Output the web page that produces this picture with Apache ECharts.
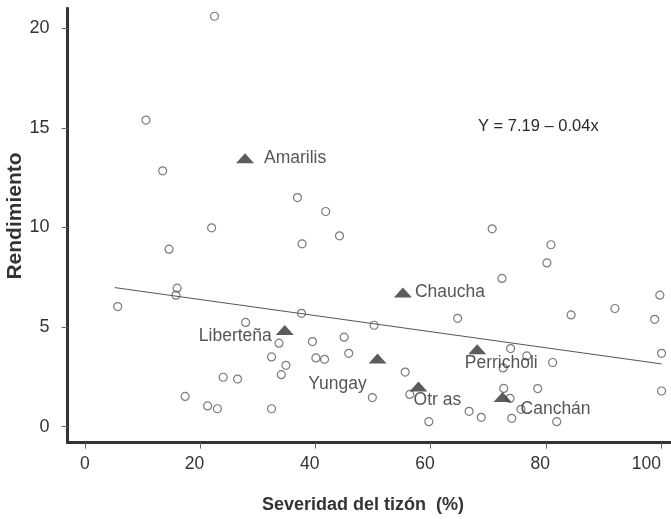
<!DOCTYPE html>
<html>
<head>
<meta charset="utf-8">
<script src="https://cdn.jsdelivr.net/npm/echarts@6/dist/echarts.min.js"></script>
<style>
html,body{margin:0;padding:0;background:#fff;}
#chart{width:671px;height:519px;}
</style>
</head>
<body>
<div id="chart"></div>
<script>
// ---- data ----
const circleX = [5.7, 10.6, 13.5, 14.6, 16.0, 15.8, 17.4, 21.3, 22.0, 22.5, 23.0, 24.0, 26.5, 27.9,
  32.4, 32.4, 33.7, 34.1, 34.9, 36.9, 37.6, 37.7, 39.5, 40.1, 41.6, 41.8, 44.2, 45.0, 45.8,
  49.9, 50.2, 55.6, 56.4, 59.7, 64.7, 66.7, 68.8, 70.7, 72.4, 72.6, 72.7, 73.8, 73.9, 74.1,
  75.7, 76.7, 78.6, 80.2, 80.9, 81.2, 81.9, 84.4, 92.0, 98.9, 99.8, 100.1, 100.1];
const circleY = [6.03, 15.39, 12.84, 8.91, 6.95, 6.6, 1.52, 1.04, 9.98, 20.6, 0.9, 2.48, 2.39, 5.23,
  3.50, 0.9, 4.19, 2.61, 3.08, 11.5, 5.69, 9.18, 4.27, 3.45, 3.38, 10.8, 9.58, 4.49, 3.68,
  1.46, 5.09, 2.74, 1.62, 0.25, 5.44, 0.77, 0.47, 9.93, 7.44, 2.95, 1.92, 1.42, 3.92, 0.42,
  0.87, 3.55, 1.91, 8.22, 9.13, 3.22, 0.25, 5.61, 5.93, 5.39, 6.6, 3.68, 1.79];

const varietyNames = ['Amarilis', 'Chaucha', 'Liberteña', 'Yungay', 'Otr as', 'Perricholi', 'Canchán'];
const varietyX = [27.8, 55.2, 34.7, 50.8, 57.9, 68.1, 72.5];
const varietyY = [13.47, 6.73, 4.85, 3.42, 2.01, 3.88, 1.49];

const regX = [5.2, 100.1];
const regY = [6.98, 3.15];

const xTicks = [0, 20, 40, 60, 80, 100];
const yTicks = [0, 5, 10, 15, 20];

const xTitle = 'Severidad del tizón  (%)';
const yTitle = 'Rendimiento';
const eqText = 'Y = 7.19 – 0.04x';

// ---- styling ----
const FONT = '"Liberation Sans", Arial, sans-serif';
const labelLayout = {
  'Amarilis':   {position: 'right', distance: 10},
  'Chaucha':    {position: 'right', distance: 3},
  'Liberteña':  {position: 'left', distance: 4, offset: [0, 6]},
  'Yungay':     {position: 'inside', offset: [-40, 26]},
  'Otr as':     {position: 'inside', offset: [19, 14]},
  'Perricholi': {position: 'inside', offset: [24, 14]},
  'Canchán':    {position: 'inside', offset: [53, 12]}
};

const circleData = circleX.map((x, i) => [x, circleY[i]]);
const varietyData = varietyNames.map((n, i) => ({
  name: n,
  value: [varietyX[i], varietyY[i]],
  label: Object.assign({show: true, formatter: '{b}'}, labelLayout[n])
}));
const regData = regX.map((x, i) => [x, regY[i]]);

const chart = echarts.init(document.getElementById('chart'), null, {renderer: 'canvas'});
chart.setOption({
  animation: false,
  backgroundColor: '#ffffff',
  grid: {left: 67.6, top: 8.3, width: 604.9, height: 434.3, containLabel: false, outerBoundsMode: 'none'},
  xAxis: {
    type: 'value', min: -3, max: 102,
    axisLine: {show: true, onZero: false, lineStyle: {color: '#333', width: 3}},
    axisTick: {show: true, customValues: xTicks, length: 6, lineStyle: {color: '#666', width: 1}},
    axisLabel: {
      customValues: xTicks, margin: 13, fontSize: 17.5, color: '#333', fontFamily: FONT,
      alignMaxLabel: 'right',
      formatter: function (v) { return (v === 0 || v === 100) ? String(v) : '{s|' + v + '}'; },
      rich: {s: {fontSize: 17.5, color: '#333', fontFamily: FONT, padding: [0, 11, 0, 0]}}
    },
    splitLine: {show: false}
  },
  yAxis: {
    type: 'value', min: -0.8, max: 21,
    axisLine: {show: true, onZero: false, lineStyle: {color: '#333', width: 3}},
    axisTick: {show: true, customValues: yTicks, length: 6, lineStyle: {color: '#666', width: 1}},
    axisLabel: {customValues: yTicks, margin: 18, fontSize: 18, color: '#333', fontFamily: FONT},
    splitLine: {show: false}
  },
  series: [
    {
      type: 'line', data: regData, symbol: 'none', silent: true, z: 1,
      lineStyle: {color: '#555', width: 1}
    },
    {
      type: 'scatter', data: circleData, symbol: 'circle', symbolSize: 8, z: 2,
      itemStyle: {color: 'rgba(255,255,255,0)', borderColor: '#5a5a5a', borderWidth: 1.2}
    },
    {
      type: 'scatter', data: varietyData, symbol: 'triangle', symbolSize: [18, 10], z: 3,
      itemStyle: {color: '#333'},
      label: {fontSize: 17.5, color: '#2a2a2a', fontFamily: FONT}
    }
  ],
  graphic: [
    {
      type: 'text', x: 478, y: 126,
      style: {text: eqText, fontSize: 16.5, fontFamily: FONT,
        fill: '#2a2a2a', textVerticalAlign: 'middle', textAlign: 'left'}
    },
    {
      type: 'text', x: 363, y: 505,
      style: {text: xTitle, fontSize: 18, fontWeight: 'bold', fontFamily: FONT,
        fill: '#333', textVerticalAlign: 'middle', textAlign: 'center'}
    },
    {
      type: 'text', x: 15, y: 216, rotation: Math.PI / 2,
      style: {text: yTitle, fontSize: 21, fontWeight: 'bold', fontFamily: FONT,
        fill: '#333', textVerticalAlign: 'middle', textAlign: 'center'}
    }
  ]
});
</script>
</body>
</html>
